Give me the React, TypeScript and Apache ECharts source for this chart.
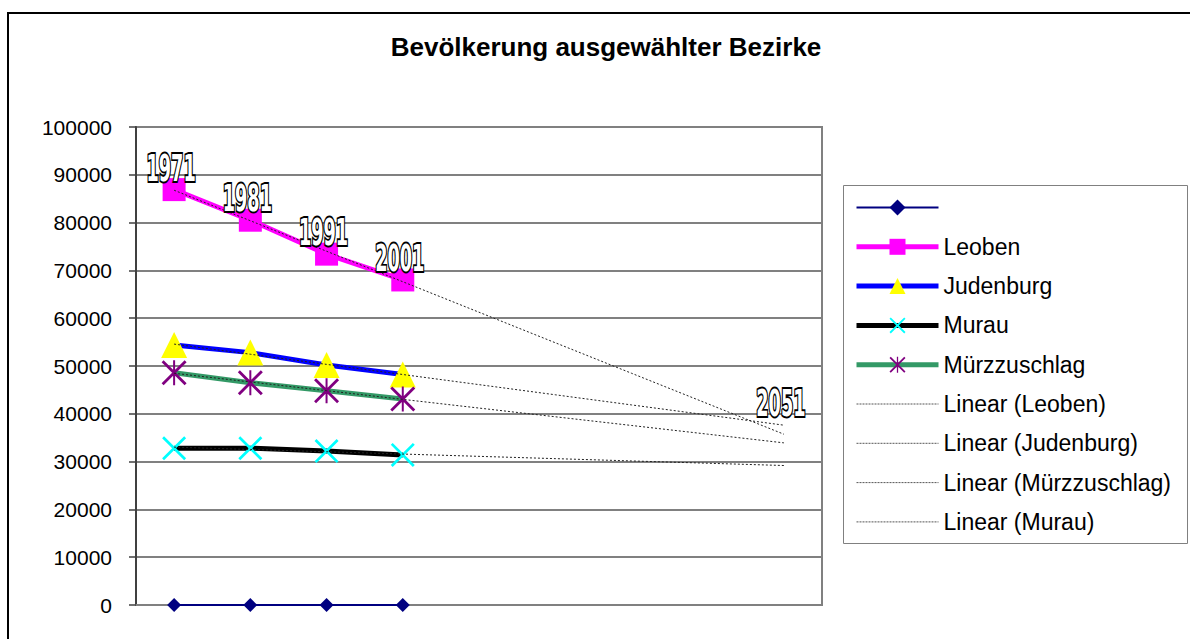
import React, { useEffect, useRef } from 'react';
import * as echarts from 'echarts';

// ---- data ----
const categories = ['1971', '1981', '1991', '2001', '2011', '2021', '2031', '2041', '2051'];
const baseline = [0, 0, 0, 0];
const leoben = [86900, 80500, 73400, 68000];
const judenburg = [54400, 52800, 50200, 48200];
const murau = [32800, 32800, 32200, 31400];
const muerz = [48600, 46500, 44800, 43100];
const pointLabels = ['1971', '1981', '1991', '2001'];
const endLabel = '2051';
const yMin = 0;
const yMax = 100000;
const yInterval = 10000;

function linearTrend(v: number[], n: number): number[] {
  const m = v.length;
  const xm = (m - 1) / 2;
  const ym = v.reduce((a, b) => a + b, 0) / m;
  let num = 0;
  let den = 0;
  v.forEach((y, i) => {
    num += (i - xm) * (y - ym);
    den += (i - xm) * (i - xm);
  });
  const b = num / den;
  const a = ym - b * xm;
  return Array.from({ length: n }, (_, i) => Math.round((a + b * i) * 10) / 10);
}

const X_PATH = 'path://M0,0.8L0.8,0L10,9.2L9.2,10Z M9.2,0L10,0.8L0.8,10L0,9.2Z';
const STAR_PATH =
  'path://M0,0.8L0.8,0L10,9.2L9.2,10Z M9.2,0L10,0.8L0.8,10L0,9.2Z M4.6,0L5.4,0L5.4,10L4.6,10Z';

const FONT = '"Liberation Sans", Arial, sans-serif';
const NARROW = '"Liberation Sans Narrow", "DejaVu Sans Condensed", sans-serif';
const BLANK = ' ';

export default function App() {
  const ref = useRef<HTMLDivElement>(null);
  useEffect(() => {
    if (!ref.current) return;
    const chart = echarts.init(ref.current, undefined, { renderer: 'svg' });
    const n = categories.length;
    const tLeoben = linearTrend(leoben, n);
    const tJud = linearTrend(judenburg, n);
    const tMuerz = linearTrend(muerz, n);
    const tMurau = linearTrend(murau, n);

    const trend = (name: string, data: number[]) => ({
      name,
      type: 'line',
      data,
      symbol: 'none',
      showSymbol: false,
      z: 5,
      lineStyle: { color: '#222', width: 1, type: [2, 2] },
      itemStyle: { color: '#222' },
      silent: true,
    });
    const trendLegend = (name: string) => ({
      name,
      itemStyle: { color: 'rgba(0,0,0,0)', borderWidth: 0, opacity: 0 },
      lineStyle: { color: '#555', width: 1, type: [2, 1] },
    });

    chart.setOption({
      animation: false,
      title: {
        text: 'Bevölkerung ausgewählter Bezirke',
        left: 601,
        top: 29,
        textAlign: 'center',
        textStyle: { fontFamily: FONT, fontSize: 26, fontWeight: 'bold', color: '#000' },
      },
      legend: {
        orient: 'vertical',
        left: 843,
        top: 185,
        padding: [11, 10, 10, 11],
        itemWidth: 82,
        itemHeight: 20,
        itemGap: 16.3,
        textStyle: { fontFamily: FONT, fontSize: 23, color: '#000' },
        data: [
          { name: BLANK, lineStyle: { width: 2, color: '#000080' } },
          { name: 'Leoben', lineStyle: { width: 5, color: '#FF00FF' } },
          { name: 'Judenburg', lineStyle: { width: 5, color: '#0000FF' } },
          { name: 'Murau', lineStyle: { width: 5, color: '#000000' } },
          { name: 'Mürzzuschlag', lineStyle: { width: 5, color: '#339966' } },
          trendLegend('Linear (Leoben)'),
          trendLegend('Linear (Judenburg)'),
          trendLegend('Linear (Mürzzuschlag)'),
          trendLegend('Linear (Murau)'),
        ],
      },
      grid: {
        left: 136,
        top: 127,
        right: 368,
        bottom: 34,
        show: true,
        borderColor: '#808080',
        borderWidth: 2,
        backgroundColor: '#fff',
      },
      xAxis: {
        type: 'category',
        data: categories,
        boundaryGap: true,
        axisLabel: { show: false },
        axisTick: { show: false },
        axisLine: { lineStyle: { color: '#808080', width: 2 } },
        splitLine: { show: false },
      },
      yAxis: {
        type: 'value',
        min: yMin,
        max: yMax,
        interval: yInterval,
        axisLine: { show: true, lineStyle: { color: '#404040', width: 2 } },
        axisTick: { show: true, length: 7, lineStyle: { color: '#404040', width: 1.5 } },
        axisLabel: {
          fontFamily: FONT,
          fontSize: 21,
          color: '#000',
          margin: 24,
          formatter: (v: number) => String(v),
        },
        splitLine: { lineStyle: { color: '#808080', width: 2 } },
      },
      series: [
        {
          name: BLANK,
          type: 'line',
          data: baseline,
          symbol: 'diamond',
          symbolSize: 14,
          lineStyle: { color: '#000080', width: 2 },
          itemStyle: { color: '#000080', borderWidth: 0 },
        },
        {
          name: 'Leoben',
          type: 'line',
          data: leoben,
          symbol: 'rect',
          symbolSize: 23,
          lineStyle: { color: '#FF00FF', width: 5 },
          itemStyle: { color: '#FF00FF', borderWidth: 0 },
        },
        {
          name: 'Judenburg',
          type: 'line',
          data: judenburg,
          symbol: 'triangle',
          symbolSize: 26,
          lineStyle: { color: '#0000FF', width: 5 },
          itemStyle: { color: '#FFFF00', borderWidth: 0 },
        },
        {
          name: 'Murau',
          type: 'line',
          data: murau,
          symbol: X_PATH,
          symbolSize: 24,
          lineStyle: { color: '#000000', width: 5 },
          itemStyle: { color: '#00FFFF', borderWidth: 0 },
        },
        {
          name: 'Mürzzuschlag',
          type: 'line',
          data: muerz,
          symbol: STAR_PATH,
          symbolSize: 25,
          lineStyle: { color: '#339966', width: 5 },
          itemStyle: { color: '#800080', borderWidth: 0 },
        },
        trend('Linear (Leoben)', tLeoben),
        trend('Linear (Judenburg)', tJud),
        trend('Linear (Mürzzuschlag)', tMuerz),
        trend('Linear (Murau)', tMurau),
      ],
    });

    const labelEl = (text: string, p: number[]) => ({
      type: 'text',
      x: p[0] - 3,
      y: p[1] - 22,
      scaleX: 0.82,
      scaleY: 1.55,
      z: 100,
      style: {
        text,
        font: `bold 24px ${NARROW}`,
        fill: '#fff',
        stroke: '#000',
        lineWidth: 2.5,
        textAlign: 'center',
        textVerticalAlign: 'middle',
      },
    });

    const els: any[] = pointLabels.map((t, i) =>
      labelEl(t, chart.convertToPixel({ seriesIndex: 1 }, [i, leoben[i]]) as number[])
    );
    els.push(labelEl(endLabel, chart.convertToPixel({ seriesIndex: 6 }, [n - 1, tJud[n - 1]]) as number[]));
    els.push({
      type: 'rect',
      z: -1,
      shape: { x: 8, y: 13, width: 1200, height: 700 },
      style: { fill: 'none', stroke: '#000', lineWidth: 2 },
      silent: true,
    });
    els.push({
      type: 'rect',
      z: -1,
      shape: { x: 843.5, y: 185.5, width: 344, height: 358 },
      style: { fill: 'none', stroke: '#808080', lineWidth: 1 },
      silent: true,
    });
    chart.setOption({ graphic: els });

    return () => chart.dispose();
  }, []);
  return (
    <div
      ref={ref}
      style={{ position: 'fixed', left: 0, top: 0, width: 1190, height: 639, background: '#fff' }}
    />
  );
}
